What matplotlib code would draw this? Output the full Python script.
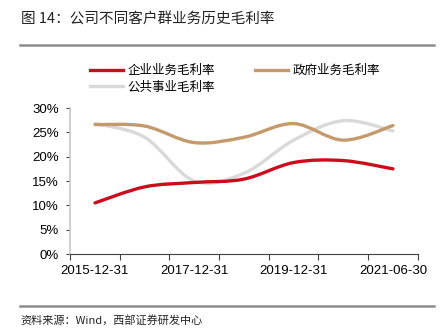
# -*- coding: utf-8 -*-
# 公司不同客户群业务历史毛利率 - line chart recreation
import matplotlib
matplotlib.use("Agg")
import matplotlib.pyplot as plt
from matplotlib.path import Path
from matplotlib.patches import PathPatch
from matplotlib.lines import Line2D

plt.rcParams['font.family'] = ['Liberation Sans', 'Noto Sans CJK SC', 'DejaVu Sans']

# data (%)
dates = ['2015-12-31', '2016-12-31', '2017-12-31', '2018-12-31',
         '2019-12-31', '2020-12-31', '2021-06-30']
enterprise = [10.5, 13.8, 14.7, 15.4, 18.8, 19.2, 17.5]
government = [26.6, 26.3, 22.9, 24.0, 26.8, 23.4, 26.4]
public = [26.8, 24.0, 15.0, 16.6, 23.4, 27.4, 25.3]

names = ['企业业务毛利率', '政府业务毛利率', '公共事业毛利率']
colors = ['#cc0c1c', '#c49a6c', '#d9d9d9']
yticks = [0, 5, 10, 15, 20, 25, 30]


def smooth_path(xs, ys):
    # cubic bezier through the points (same idea as excel "smoothed line")
    pts = list(zip(xs, ys))
    n = len(pts)
    verts = [pts[0]]
    codes = [Path.MOVETO]
    for i in range(n - 1):
        p0 = pts[i - 1] if i > 0 else pts[i]
        p1 = pts[i]
        p2 = pts[i + 1]
        p3 = pts[i + 2] if i + 2 < n else pts[i + 1]
        c1 = (p1[0] + (p2[0] - p0[0]) / 6, p1[1] + (p2[1] - p0[1]) / 6)
        c2 = (p2[0] - (p3[0] - p1[0]) / 6, p2[1] - (p3[1] - p1[1]) / 6)
        verts += [c1, c2, p2]
        codes += [Path.CURVE4] * 3
    return Path(verts, codes)


fig = plt.figure(figsize=(4.44, 3.34), dpi=100)
ax = fig.add_axes([0.158, 0.2395, 0.783, 0.437])

x = list(range(len(dates)))
handles = []
for vals, col, name in zip([enterprise, government, public], colors, names):
    patch = PathPatch(smooth_path(x, vals), facecolor='none', edgecolor=col,
                      lw=2.4, capstyle='round', zorder=3 if col != '#d9d9d9' else 2)
    ax.add_patch(patch)
    handles.append(Line2D([], [], color=col, lw=2.4, label=name))

ax.set_xlim(-0.5, len(dates) - 0.5)
ax.set_ylim(0, 30)
ax.set_yticks(yticks)
ax.set_yticklabels([f'{v}%' for v in yticks], fontsize=9.5)

# ticks at category boundaries, labels every other category
ax.set_xticks([i - 0.5 for i in range(len(dates) + 1)])
ax.set_xticklabels([])
ax.set_xticks(x[::2], minor=True)
ax.set_xticklabels(dates[::2], minor=True, fontsize=9.5)
ax.tick_params(axis='x', which='major', length=4, color='#404040', width=0.8)
ax.tick_params(axis='x', which='minor', length=0, pad=8)
ax.tick_params(axis='y', length=3, color='#404040', width=0.8, pad=5)

for s in ['top', 'right']:
    ax.spines[s].set_visible(False)
ax.spines['left'].set_color('#c8c8c8')
ax.spines['left'].set_linewidth(1.2)
ax.spines['bottom'].set_color('#404040')
ax.spines['bottom'].set_linewidth(0.8)

# legend: red, tan on row 1, gray on row 2
leg = fig.legend([handles[0], handles[2], handles[1]],
                 [names[0], names[2], names[1]],
                 ncol=2, loc='upper left', bbox_to_anchor=(0.178, 0.842),
                 frameon=False, handlelength=2.6,
                 columnspacing=3.2, handletextpad=0.4, labelspacing=0.3,
                 prop={'family': ['Noto Sans CJK SC'], 'size': 9})

# title, rules and source
fig.text(0.047, 0.94, '图 14：公司不同客户群业务历史毛利率', fontsize=10.5,
         family=['Noto Sans CJK SC'], va='center', color='#222222')
fig.add_artist(Line2D([0.045, 0.978], [0.866, 0.866], color='#8c8c8c', lw=1.8))
fig.add_artist(Line2D([0.045, 0.978], [0.083, 0.083], color='#8c8c8c', lw=1.8))
fig.text(0.047, 0.042, '资料来源：Wind，西部证券研发中心', fontsize=8,
         family=['Noto Sans CJK SC', 'Liberation Sans'], va='center', color='#222222')

fig.savefig('out.png', dpi=100)
